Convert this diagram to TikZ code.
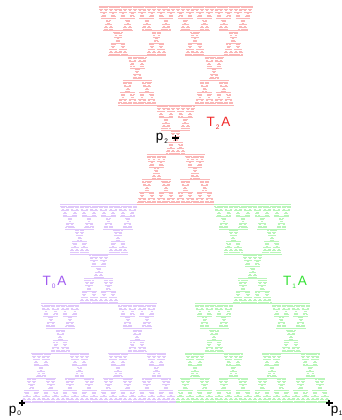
\documentclass[tikz,border=0pt]{standalone}
\usepackage{fontspec}
\setmainfont{Liberation Sans}
\usepackage{tikz}

\definecolor{tzero}{RGB}{160,90,240}
\definecolor{tone}{RGB}{50,225,50}
\definecolor{ttwo}{RGB}{240,40,40}

% small lowered index for the labels
\newcommand{\lowidx}[1]{\raisebox{-2.5pt}{\fontsize{6.5}{7}\selectfont #1}}

% one piece of the attractor: x, y, size, flip (1 or -1), depth
\newcommand{\attr}[5]{%
  \ifnum#5=0
    \draw (#1,#2) -- ++(#3,0);
  \else
    \begingroup
      \pgfmathsetmacro{\hsz}{#3/2}%
      \pgfmathsetmacro{\mx}{#1+#3/2}%
      \pgfmathsetmacro{\qx}{#1+#3/4}%
      \pgfmathsetmacro{\ty}{#2+(#4)*(#3)*1.299038}%
      \pgfmathsetmacro{\nf}{-(#4)}%
      \edef\attrnext{%
        \noexpand\attr{#1}{#2}{\hsz}{#4}{\the\numexpr#5-1\relax}%
        \noexpand\attr{\mx}{#2}{\hsz}{#4}{\the\numexpr#5-1\relax}%
        \noexpand\attr{\qx}{\ty}{\hsz}{\nf}{\the\numexpr#5-1\relax}}%
      \attrnext
    \endgroup
  \fi}

\tikzset{
  plus/.pic={\draw[line width=1.7pt] (-3.2pt,0) -- (3.2pt,0) (0,-3.2pt) -- (0,3.2pt);},
  lbl/.style={anchor=base, inner sep=0pt}
}

\begin{document}
\begin{tikzpicture}[x=307.6pt, y=305.5pt, font=\fontsize{13.5}{16}\selectfont]
  \useasboundingbox (-21.7pt,-17.3pt) rectangle (320.3pt,402.7pt);

  % the three copies T0 A, T1 A, T2 A
  \foreach \x/\y/\f/\c in {0/0/1/tzero, 0.5/0/1/tone, 0.25/1.299038/-1/ttwo}{
    \begin{scope}[draw=\c!34, line width=0.55pt]
      \attr{\x}{\y}{0.5}{\f}{8}
    \end{scope}
  }

  % fixed points
  \coordinate (p0) at (0,0);
  \coordinate (p1) at (1,0);
  \coordinate (p2) at (0.5,0.866025);
  \pic at (p0) {plus};
  \pic at (p1) {plus};
  \pic at (p2) {plus};

  \node[lbl] (lp0) at (-6.7pt,-10.3pt) {p\kern1pt\lowidx{0}};
  \node[lbl, anchor=base west] (lp1) at (309pt,-10.3pt) {p\kern0.5pt\lowidx{1}};
  \node[lbl] (lp2) at (140.3pt,261.7pt) {p\kern1pt\lowidx{2}};

  % labels of the copies
  \node[lbl, text=tzero] (lt0) at (32.8pt,116.7pt) {T\kern1pt\lowidx{0}\kern2pt A};
  \node[lbl, text=tone] (lt1) at (273.3pt,116.7pt) {T\kern1pt\lowidx{1}\kern2pt A};
  \node[lbl, text=ttwo] (lt2) at (196.8pt,275.7pt) {T\kern1pt\lowidx{2}\kern2pt A};
\end{tikzpicture}
\end{document}
